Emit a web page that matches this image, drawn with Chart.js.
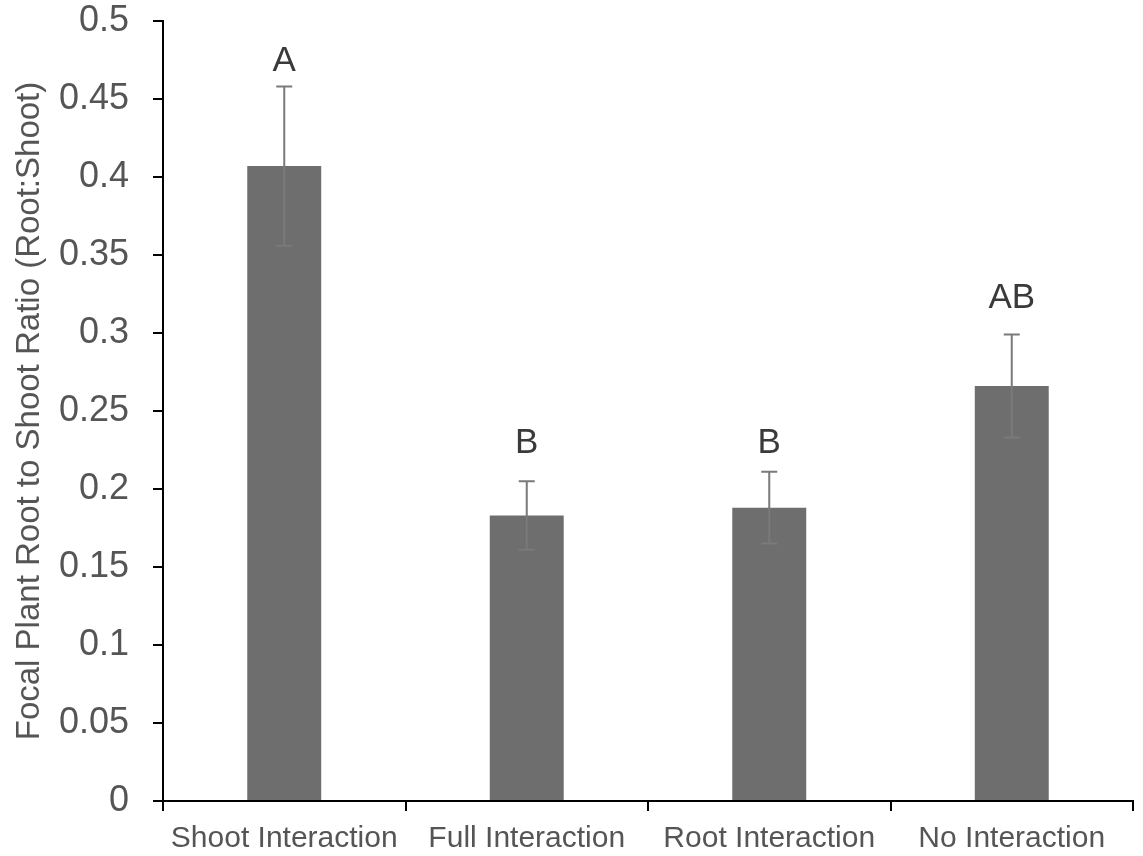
<!DOCTYPE html>
<html>
<head>
<meta charset="utf-8">
<script src="https://cdn.jsdelivr.net/npm/chart.js@4/dist/chart.umd.min.js"></script>
<style>
    html, body { margin: 0; padding: 0; background: #fff; }
    #wrap { width: 1143px; height: 856px; }
</style>
</head>
<body>
<div id="wrap"><canvas id="chart" width="1143" height="856"></canvas></div>
<script>
const categories = ['Shoot Interaction', 'Full Interaction', 'Root Interaction', 'No Interaction'];
const ratioValues = [0.407, 0.183, 0.188, 0.266];
const errorValues = [0.051, 0.022, 0.023, 0.033];
const groupLetters = ['A', 'B', 'B', 'AB'];
const letterLevels = [0.474, 0.229, 0.229, 0.322];
const yTicks = [0, 0.05, 0.1, 0.15, 0.2, 0.25, 0.3, 0.35, 0.4, 0.45, 0.5];

const fontFamily = '"Liberation Sans", Arial, sans-serif';

// error bars and significance letters, drawn through the scales
const errorBarPlugin = {
    id: 'errorBars',
    afterDatasetsDraw(chart) {
        const ctx = chart.ctx,
            x = chart.scales.x,
            y = chart.scales.y;
        ctx.save();
        ctx.strokeStyle = '#7a7a7a';
        ctx.lineWidth = 2;
        ratioValues.forEach((value, index) => {
            const px = x.getPixelForValue(index),
                top = y.getPixelForValue(value + errorValues[index]),
                bottom = y.getPixelForValue(value - errorValues[index]);
            ctx.beginPath();
            ctx.moveTo(px, top);
            ctx.lineTo(px, bottom);
            ctx.moveTo(px - 8, top);
            ctx.lineTo(px + 8, top);
            ctx.moveTo(px - 8, bottom);
            ctx.lineTo(px + 8, bottom);
            ctx.stroke();
        });
        ctx.fillStyle = '#3a3a3a';
        ctx.font = '35px ' + fontFamily;
        ctx.textAlign = 'center';
        ctx.textBaseline = 'middle';
        groupLetters.forEach((letter, index) => {
            ctx.fillText(letter, x.getPixelForValue(index), y.getPixelForValue(letterLevels[index]));
        });
        ctx.restore();
    }
};

const context = document.getElementById('chart').getContext('2d');
const chart = new Chart(context, {
    type: 'bar',
    data: {
        labels: categories,
        datasets: [{
            data: ratioValues,
            backgroundColor: '#6e6e6e',
            borderWidth: 0,
            barPercentage: 0.305,
            categoryPercentage: 1
        }]
    },
    options: {
        responsive: false,
        animation: false,
        layout: { padding: { top: 21, right: 10, left: 0, bottom: 0 } },
        plugins: {
            legend: { display: false },
            tooltip: { enabled: false }
        },
        scales: {
            x: {
                offset: true,
                grid: {
                    offset: true,
                    drawOnChartArea: false,
                    drawTicks: true,
                    tickLength: 10,
                    color: '#000',
                    lineWidth: 2
                },
                border: { color: '#000', width: 2 },
                ticks: {
                    color: '#555',
                    font: { size: 30, family: fontFamily },
                    padding: 10,
                    maxRotation: 0,
                    autoSkip: false
                },
                afterFit(scale) {
                    scale.height = 55;
                    scale.paddingLeft = 0;
                    scale.paddingRight = 0;
                }
            },
            y: {
                min: 0,
                max: 0.5,
                afterBuildTicks(scale) {
                    scale.ticks = yTicks.map(v => ({ value: v }));
                },
                grid: {
                    drawOnChartArea: false,
                    drawTicks: true,
                    tickLength: 10,
                    color: '#000',
                    lineWidth: 2
                },
                border: { color: '#000', width: 2 },
                ticks: {
                    color: '#555',
                    font: { size: 36, family: fontFamily },
                    padding: 24,
                    callback: v => String(v)
                },
                title: {
                    display: true,
                    text: 'Focal Plant Root to Shoot Ratio (Root:Shoot)',
                    color: '#555',
                    font: { size: 33, family: fontFamily },
                    padding: { top: 10, bottom: 4 }
                },
                afterFit(scale) {
                    scale.width = 163;
                    scale.paddingTop = 0;
                    scale.paddingBottom = 0;
                }
            }
        }
    },
    plugins: [errorBarPlugin]
});
</script>
</body>
</html>
